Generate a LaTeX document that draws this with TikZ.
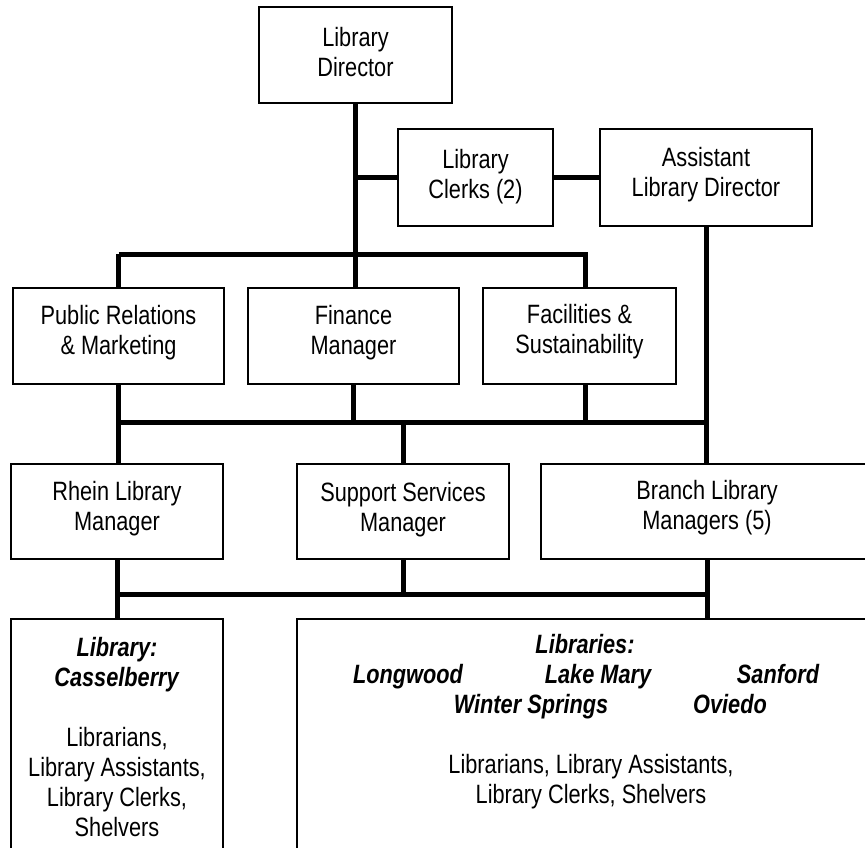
\documentclass[tikz,border=0pt]{standalone}
\usepackage{fontspec}
\setmainfont{Liberation Sans}[FakeStretch=0.82]
\newcommand{\bix}[1]{\textbf{\textit{#1}}}
\begin{document}
\begin{tikzpicture}[x=1pt,y=-1pt,
  box/.style={draw=black, line width=1.8pt, fill=white, inner sep=0pt},
  txt/.style={align=center, inner sep=0pt, font=\fontsize{26.5}{30}\selectfont},
  bitxt/.style={inner sep=0pt, font=\fontsize{26.5}{30}\selectfont\bfseries\itshape},
  link/.style={line width=5pt}]
\useasboundingbox (0,0) rectangle (865,848);
\clip (0,0) rectangle (865,848);

% boxes
\node[box, minimum width=193pt, minimum height=96pt] (dir) at (355.5,55) {};
\node[box, minimum width=155pt, minimum height=97pt] (clerks) at (475.5,177.5) {};
\node[box, minimum width=212pt, minimum height=97pt] (asst) at (706,177.5) {};
\node[box, minimum width=211pt, minimum height=96pt] (pr) at (118.5,336) {};
\node[box, minimum width=211pt, minimum height=96pt] (fin) at (353.5,336) {};
\node[box, minimum width=193pt, minimum height=96pt] (fac) at (579.5,336) {};
\node[box, minimum width=212pt, minimum height=95pt] (rhein) at (117,511.5) {};
\node[box, minimum width=212pt, minimum height=95pt] (supp) at (403,511.5) {};
\node[box, minimum width=332pt, minimum height=95pt] (branch) at (707,511.5) {};
\node[box, minimum width=212pt, minimum height=281pt] (cass) at (117,759.5) {};
\node[box, minimum width=576pt, minimum height=281pt] (libs) at (585,759.5) {};

% bus coordinates
\coordinate (busA) at (119,254);
\coordinate (busB) at (585,254);
\coordinate (busC) at (119,422);
\coordinate (busD) at (706,422);
\coordinate (busE) at (117,594);
\coordinate (busF) at (707,594);

% connectors
\draw[link] (dir.south) -- (dir.south |- fin.north);
\draw[link] (dir.south |- clerks.west) -- (clerks.west);
\draw[link] (clerks.east) -- (asst.west);
\draw[link, line join=miter] (busA -| pr.north) -- (busA) -- (busB) -- (busB |- fac.north);
\draw[link] (busA -| pr.north) -- (pr.north);
\draw[link] (pr.south) -- (rhein.north -| pr.south);
\draw[link] (fin.south) -- (fin.south |- busC);
\draw[link] (busB |- fac.south) -- (busB |- busC);
\draw[link, line cap=rect] (busC -| pr.south) -- (busD);
\draw[link] (asst.south) -- (asst.south |- branch.north);
\draw[link] (supp.north |- busC) -- (supp.north);
\draw[link] (rhein.south) -- (cass.north);
\draw[link, line cap=rect] (busE) -- (busF);
\draw[link] (supp.south) -- (supp.south |- busE);
\draw[link] (branch.south) -- (branch.south |- libs.north);

% texts
\node[txt, anchor=north] (dirT) at (355.5,27) {Library\\Director};
\node[txt, anchor=north] (clerksT) at (475.5,149) {Library\\Clerks (2)};
\node[txt, anchor=north] (asstT) at (706,147.5) {Assistant\\Library Director};
\node[txt, anchor=north] (prT) at (118.5,305) {Public Relations\\\& Marketing};
\node[txt, anchor=north] (finT) at (353.5,305) {Finance\\Manager};
\node[txt, anchor=north] (facT) at (579.5,304) {Facilities \&\\Sustainability};
\node[txt, anchor=north] (rheinT) at (117,481.5) {Rhein Library\\Manager};
\node[txt, anchor=north] (suppT) at (403,482) {Support Services\\Manager};
\node[txt, anchor=north] (branchT) at (707,480.5) {Branch Library\\Managers (5)};
\node[txt, anchor=north] (cassT) at (117,637) {\bix{Library:}\\\bix{Casselberry}\\[30pt]Librarians,\\Library Assistants,\\Library Clerks,\\Shelvers};

\node[bitxt, anchor=base] (libsT) at (585,653) {Libraries:};
\node[bitxt, anchor=base] (longw) at (408,683) {Longwood};
\node[bitxt, anchor=base] (lakem) at (598,683) {Lake Mary};
\node[bitxt, anchor=base] (sanf) at (778,683) {Sanford};
\node[bitxt, anchor=base] (winter) at (531,713) {Winter Springs};
\node[bitxt, anchor=base] (ovied) at (730,713) {Oviedo};
\node[txt, anchor=north] (staffT) at (591,754) {Librarians, Library Assistants,\\Library Clerks, Shelvers};
\end{tikzpicture}
\end{document}
